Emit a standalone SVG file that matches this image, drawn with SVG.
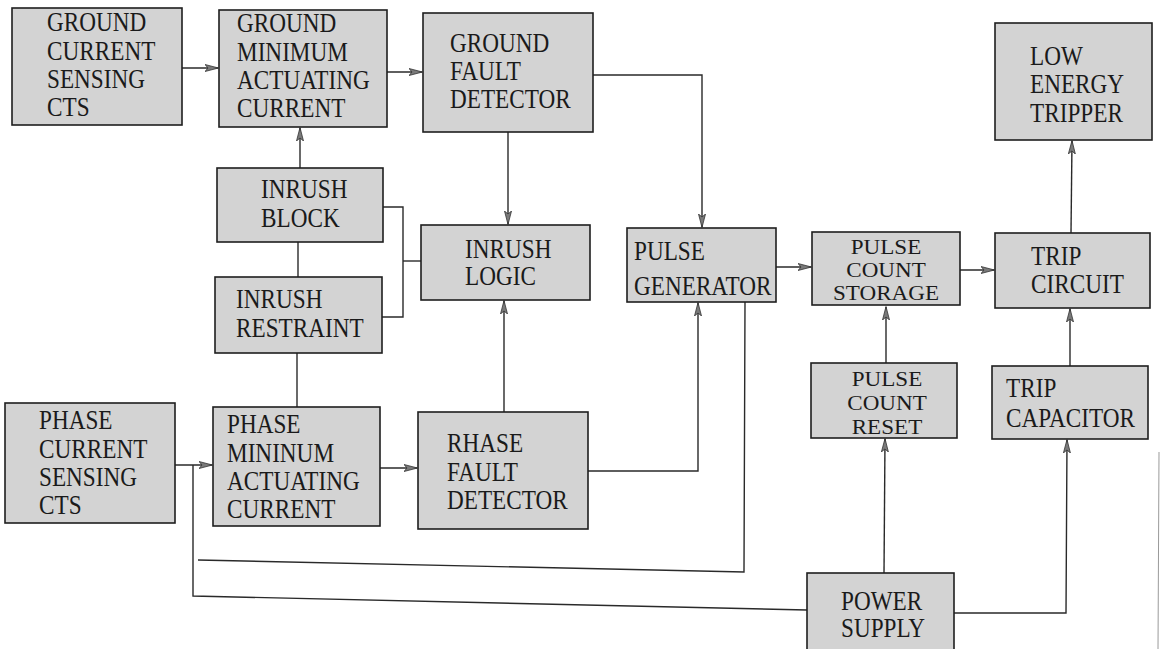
<svg xmlns="http://www.w3.org/2000/svg" width="1162" height="649" viewBox="0 0 1162 649">
<defs>
<marker id="arr" viewBox="0 0 14 8" refX="13" refY="4" markerWidth="14" markerHeight="8" markerUnits="userSpaceOnUse" orient="auto">
<path d="M0,0.5 L13.5,4 L0,7.5 L3,4 Z" fill="#7a7a7a" stroke="#333" stroke-width="0.8"/>
</marker>
<style>
.box{fill:#d3d3d3;stroke:#1e1e1e;stroke-width:1.6}
text{font-family:'Liberation Serif','DejaVu Serif','Times New Roman',serif;font-size:27px;fill:#1a1a1a}
.s text{font-size:22px}
.c text{text-anchor:middle}
.ln{fill:none;stroke:#2a2a2a;stroke-width:1.4}
.a{marker-end:url(#arr)}
</style>
</defs>
<rect width="1162" height="649" fill="#ffffff"/>

<g id="connectors">
<path class="ln a" d="M182,68 L218,68"/>
<path class="ln a" d="M387,72 L422,72"/>
<path class="ln a" d="M593,75 L702,75 L702,227"/>
<path class="ln a" d="M508,132 L508,224"/>
<path class="ln a" d="M300,168 L300,128"/>
<path class="ln" d="M298,242 L298,277"/>
<path class="ln" d="M297,353 L297,407"/>
<path class="ln" d="M383,207 L403,207 L403,317 L382,317"/>
<path class="ln" d="M403,261 L421,261"/>
<path class="ln a" d="M504,412 L504,301"/>
<path class="ln a" d="M175,465 L212,465"/>
<path class="ln a" d="M380,468 L417,468"/>
<path class="ln a" d="M588,471 L698,471 L698,303"/>
<path class="ln" d="M745,302 L744,572 L198,560"/>
<path class="ln" d="M807,610 L193,596 L193,465"/>
<path class="ln a" d="M884,573 L885,439"/>
<path class="ln a" d="M954,613 L1066,613 L1067,440"/>
<path class="ln a" d="M886,363 L886,307"/>
<path class="ln a" d="M1070,366 L1070,309"/>
<path class="ln a" d="M1071,233 L1072,141"/>
<path class="ln a" d="M776,267 L811,267"/>
<path class="ln a" d="M960,270 L994,270"/>
</g>

<g id="ground-current-sensing-cts">
<rect class="box" x="12" y="8" width="170" height="117"/>
<g transform="translate(47 0) scale(0.86 1)"><text y="31">GROUND</text><text y="60">CURRENT</text><text y="88">SENSING</text><text y="116">CTS</text></g>
</g>
<g id="ground-minimum-actuating-current">
<rect class="box" x="219" y="10" width="168" height="117"/>
<g transform="translate(237 0) scale(0.86 1)"><text y="32">GROUND</text><text y="61">MINIMUM</text><text y="89">ACTUATING</text><text y="117">CURRENT</text></g>
</g>
<g id="ground-fault-detector">
<rect class="box" x="423" y="13" width="170" height="119"/>
<g transform="translate(450 0) scale(0.86 1)"><text y="52">GROUND</text><text y="80">FAULT</text><text y="108">DETECTOR</text></g>
</g>
<g id="low-energy-tripper">
<rect class="box" x="995" y="23" width="157" height="117"/>
<g transform="translate(1030 0) scale(0.86 1)"><text y="65">LOW</text><text y="93">ENERGY</text><text y="122">TRIPPER</text></g>
</g>
<g id="inrush-block">
<rect class="box" x="217" y="168" width="166" height="74"/>
<g transform="translate(261 0) scale(0.86 1)"><text y="198">INRUSH</text><text y="227">BLOCK</text></g>
</g>
<g id="inrush-restraint">
<rect class="box" x="215" y="277" width="167" height="76"/>
<g transform="translate(236 0) scale(0.86 1)"><text y="308">INRUSH</text><text y="337">RESTRAINT</text></g>
</g>
<g id="inrush-logic">
<rect class="box" x="421" y="225" width="169" height="75"/>
<g transform="translate(465 0) scale(0.86 1)"><text y="258">INRUSH</text><text y="285">LOGIC</text></g>
</g>
<g id="pulse-generator">
<rect class="box" x="627" y="228" width="149" height="74"/>
<g transform="translate(634 0) scale(0.86 1)"><text y="260">PULSE</text><text y="295">GENERATOR</text></g>
</g>
<g id="pulse-count-storage">
<rect class="box" x="812" y="232" width="148" height="73"/>
<g class="s c" transform="translate(886 0) scale(1.05 1)"><text y="254">PULSE</text><text y="277">COUNT</text><text y="300">STORAGE</text></g>
</g>
<g id="trip-circuit">
<rect class="box" x="995" y="233" width="155" height="75"/>
<g transform="translate(1031 0) scale(0.86 1)"><text y="265">TRIP</text><text y="293">CIRCUIT</text></g>
</g>
<g id="pulse-count-reset">
<rect class="box" x="811" y="363" width="146" height="75"/>
<g class="s c" transform="translate(887 0) scale(1.05 1)"><text y="386">PULSE</text><text y="410">COUNT</text><text y="434">RESET</text></g>
</g>
<g id="trip-capacitor">
<rect class="box" x="992" y="366" width="156" height="73"/>
<g transform="translate(1006 0) scale(0.86 1)"><text y="397">TRIP</text><text y="427">CAPACITOR</text></g>
</g>
<g id="power-supply">
<rect class="box" x="807" y="573" width="147" height="82"/>
<g transform="translate(841 0) scale(0.86 1)"><text y="610">POWER</text><text y="637">SUPPLY</text></g>
</g>
<g id="phase-current-sensing-cts">
<rect class="box" x="5" y="403" width="170" height="120"/>
<g transform="translate(39 0) scale(0.86 1)"><text y="429">PHASE</text><text y="458">CURRENT</text><text y="486">SENSING</text><text y="514">CTS</text></g>
</g>
<g id="phase-mininum-actuating-current">
<rect class="box" x="213" y="407" width="167" height="119"/>
<g transform="translate(227 0) scale(0.86 1)"><text y="433">PHASE</text><text y="462">MININUM</text><text y="490">ACTUATING</text><text y="518">CURRENT</text></g>
</g>
<g id="rhase-fault-detector">
<rect class="box" x="418" y="412" width="170" height="117"/>
<g transform="translate(447 0) scale(0.86 1)"><text y="452">RHASE</text><text y="481">FAULT</text><text y="509">DETECTOR</text></g>
</g>

<line x1="1159" y1="452" x2="1158" y2="649" stroke="#9a9a9a" stroke-width="1"/>
</svg>
